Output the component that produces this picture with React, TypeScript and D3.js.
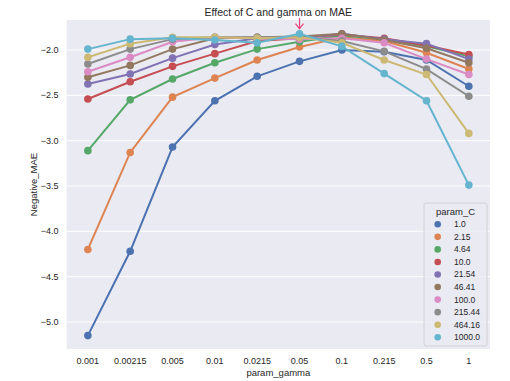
import React from "react";
import * as d3 from "d3";

const gammas = ["0.001", "0.00215", "0.005", "0.01", "0.0215", "0.05", "0.1", "0.215", "0.5", "1"];
const cLabels = ["1.0", "2.15", "4.64", "10.0", "21.54", "46.41", "100.0", "215.44", "464.16", "1000.0"];

const c1 = [-5.15, -4.22, -3.07, -2.56, -2.29, -2.125, -2.0, -2.02, -2.11, -2.4];
const c2 = [-4.2, -3.13, -2.52, -2.31, -2.11, -1.967, -1.86, -1.9, -2.03, -2.21];
const c4 = [-3.11, -2.55, -2.32, -2.14, -1.99, -1.91, -1.84, -1.88, -1.96, -2.07];
const c10 = [-2.54, -2.35, -2.18, -2.04, -1.9, -1.87, -1.83, -1.87, -1.95, -2.05];
const c21 = [-2.375, -2.265, -2.09, -1.94, -1.87, -1.87, -1.82, -1.88, -1.93, -2.1];
const c46 = [-2.3, -2.17, -1.99, -1.87, -1.86, -1.85, -1.82, -1.89, -1.98, -2.14];
const c100 = [-2.24, -2.08, -1.91, -1.86, -1.87, -1.88, -1.87, -1.92, -2.1, -2.27];
const c215 = [-2.155, -1.99, -1.88, -1.86, -1.86, -1.86, -1.9, -2.015, -2.21, -2.51];
const c464 = [-2.08, -1.93, -1.86, -1.86, -1.87, -1.86, -1.92, -2.11, -2.27, -2.92];
const c1000 = [-1.99, -1.88, -1.87, -1.89, -1.92, -1.82, -1.96, -2.26, -2.56, -3.49];

const series = [c1, c2, c4, c10, c21, c46, c100, c215, c464, c1000];
const colors = ["#4C72B0", "#DD8452", "#55A868", "#C44E52", "#8172B3", "#937860", "#DA8BC3", "#8C8C8C", "#CCB974", "#64B5CD"];
const yTicks = [-5.0, -4.5, -4.0, -3.5, -3.0, -2.5, -2.0];

const W = 510, H = 381;
const L = 66.7, R = 490, T = 20, B = 349;
const font = "'Liberation Sans', Arial, sans-serif";

export default function App() {
  const x = d3.scaleLinear().domain([-0.5, 9.5]).range([L, R]);
  const y = d3.scaleLinear().domain([-5.298, -1.669]).range([B, T]);
  const line = d3.line<number>().x((_, i) => x(i)).y((d) => y(d));
  const fmt = (v: number) => (v < 0 ? "\u2212" : "") + Math.abs(v).toFixed(1);
  const arrowX = x(5);
  const arrowTip = y(c1000[5]) - 5;
  const legX = 424, legY = 203, legW = 63, legH = 143;
  return (
    <svg width={W} height={H} style={{ position: "absolute", left: 0, top: 0 }} fontFamily={font}>
      <rect x={0} y={0} width={W} height={H} fill="#ffffff" />
      <rect x={L} y={T} width={R - L} height={B - T} fill="#EAEAF2" />
      {yTicks.map((t) => (
        <g key={t}>
          <line x1={L} x2={R} y1={y(t)} y2={y(t)} stroke="#ffffff" strokeWidth={1} />
          <text x={58.5} y={y(t)} dy="0.35em" textAnchor="end" fontSize={9} fill="#262626">
            {fmt(t)}
          </text>
        </g>
      ))}
      {gammas.map((g, i) => (
        <text key={g} x={x(i)} y={361} dy="0.35em" textAnchor="middle" fontSize={9} fill="#262626">
          {g}
        </text>
      ))}
      {series.map((s, k) => (
        <g key={k}>
          <path d={line(s) || ""} fill="none" stroke={colors[k]} strokeWidth={2} />
          {s.map((v, i) => (
            <circle key={i} cx={x(i)} cy={y(v)} r={3.8} fill={colors[k]} />
          ))}
        </g>
      ))}
      <g stroke="#E8467C" strokeWidth={1.2} fill="none">
        <line x1={arrowX} x2={arrowX} y1={18} y2={arrowTip} />
        <polyline points={`${arrowX - 4},${arrowTip - 5} ${arrowX},${arrowTip} ${arrowX + 4},${arrowTip - 5}`} />
      </g>
      <text x={(L + R) / 2} y={12} dy="0.35em" textAnchor="middle" fontSize={10.5} fill="#262626">
        Effect of C and gamma on MAE
      </text>
      <text x={(L + R) / 2} y={373} dy="0.35em" textAnchor="middle" fontSize={9.5} fill="#262626">
        param_gamma
      </text>
      <text transform={`translate(34,${(T + B) / 2}) rotate(-90)`} dy="0.35em" textAnchor="middle" fontSize={9.5} fill="#262626">
        Negative_MAE
      </text>
      <rect x={legX} y={legY} width={legW} height={legH} rx={2} fill="#EAEAF2" fillOpacity={0.8} stroke="#cccccc" strokeWidth={0.8} />
      <text x={legX + legW / 2} y={211.5} dy="0.35em" textAnchor="middle" fontSize={9.5} fill="#262626">
        param_C
      </text>
      {cLabels.map((c, k) => (
        <g key={c}>
          <circle cx={437.7} cy={224.3 + k * 12.55} r={3.3} fill={colors[k]} />
          <text x={454} y={224.3 + k * 12.55} dy="0.35em" fontSize={8.5} fill="#262626">
            {c}
          </text>
        </g>
      ))}
    </svg>
  );
}
